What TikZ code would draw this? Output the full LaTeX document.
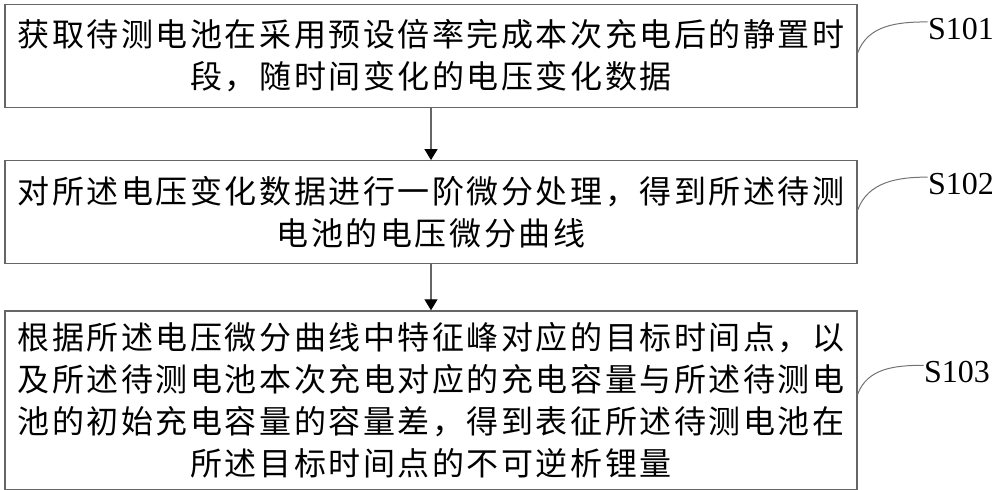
\documentclass[tikz,border=0pt]{standalone}
\usepackage{fontspec}
\setmainfont{Liberation Serif}
\newfontfamily\cjkfont[LetterSpace=8]{Noto Sans CJK SC}
\usetikzlibrary{arrows.meta, positioning, calc}
\tikzstyle{process} = [rectangle, minimum width=426pt, minimum height=51.5pt, text centered, align=center, draw=black!60, line width=0.6pt, font=\cjkfont\fontsize{16}{21}\selectfont]
\tikzstyle{arrow} = [draw=black!60, line width=0.6pt, -{Triangle[length=5.5pt, width=6.5pt, color=black]}]
\tikzstyle{steplabel} = [inner sep=0pt, font=\fontsize{16}{18}\selectfont]
\tikzstyle{leader} = [draw=black!55, line width=0.5pt]
\begin{document}
\begin{tikzpicture}[x=0.5pt, y=-0.5pt]
\useasboundingbox (0,0) rectangle (1000,489);

% Steps
\node (getdata) [process] at (431,56) {获取待测电池在采用预设倍率完成本次充电后的静置时\\段，随时间变化的电压变化数据};
\node (diff) [process, below=26pt of getdata] {对所述电压变化数据进行一阶微分处理，得到所述待测\\电池的电压微分曲线};
\node (loss) [process, below=23pt of diff, minimum height=89.5pt] {根据所述电压微分曲线中特征峰对应的目标时间点，以\\及所述待测电池本次充电对应的充电容量与所述待测电\\池的初始充电容量的容量差，得到表征所述待测电池在\\所述目标时间点的不可逆析锂量};

% Step labels
\node (s101) [steplabel, right=35pt of getdata.north east, yshift=-12.5pt] {S101};
\node (s102) [steplabel, right=35pt of diff.north east, yshift=-12pt] {S102};
\node (s103) [steplabel, right=33pt of loss.north east, yshift=-31pt] {S103};

% Flow
\draw [arrow] (getdata) -- (diff);
\draw [arrow] (diff) -- (loss);

% Leaders
\draw [leader] ([yshift=1.5pt]getdata.east) to[out=70, in=180] ([yshift=3.5pt]s101.west);
\draw [leader] ([yshift=1pt]diff.east) to[out=70, in=180] ([yshift=3.5pt]s102.west);
\draw [leader] ([yshift=3pt]loss.east) to[out=70, in=180] ([yshift=3.5pt]s103.west);

\end{tikzpicture}
\end{document}
